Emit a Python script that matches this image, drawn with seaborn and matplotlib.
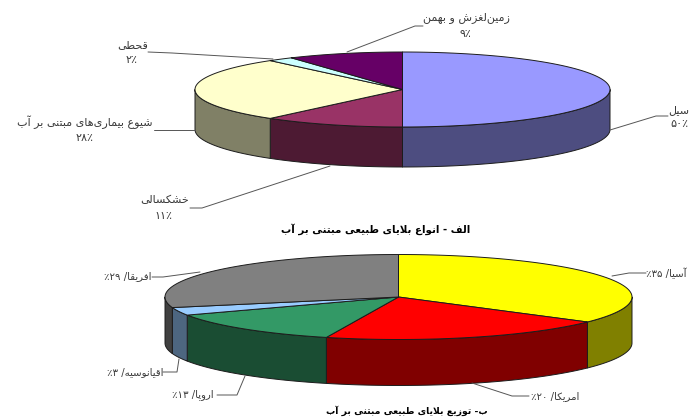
import numpy as np
import matplotlib
matplotlib.use("Agg")
import matplotlib.pyplot as plt
from matplotlib.patches import Polygon
import seaborn as sns

# Types of water-related natural disasters
hazard_names = ["سیل", "خشکسالی", "شیوع بیماری‌های مبتنی بر آب", "قحطی", "زمین‌لغزش و بهمن"]
hazard_values = [50, 11, 28, 2, 9]
hazard_top = ["#9999FF", "#993366", "#FFFFCC", "#CCFFFF", "#660066"]
hazard_side = ["#4D4D80", "#4D1A33", "#808066", "#668080", "#330033"]
hazard_caption = "الف - انواع بلایای طبیعی مبتنی بر آب"

# Distribution of those disasters by continent
region_names = ["آسیا", "امریکا", "اروپا", "اقیانوسیه", "افریقا"]
region_values = [35, 20, 13, 3, 29]
region_top = ["#FFFF00", "#FF0000", "#339966", "#99CCFF", "#808080"]
region_side = ["#808000", "#800000", "#1A4D33", "#4D6680", "#404040"]
region_caption = "ب- توزیع بلایای طبیعی مبتنی بر آب"

FORMS = {
    "ا": (0xFE8D, 0xFE8E), "آ": (0xFE81, 0xFE82), "ر": (0xFEAD, 0xFEAE),
    "ز": (0xFEAF, 0xFEB0), "و": (0xFEED, 0xFEEE),
    "ب": (0xFE8F, 0xFE90, 0xFE91, 0xFE92), "پ": (0xFB56, 0xFB57, 0xFB58, 0xFB59),
    "ت": (0xFE95, 0xFE96, 0xFE97, 0xFE98), "ح": (0xFEA1, 0xFEA2, 0xFEA3, 0xFEA4),
    "خ": (0xFEA5, 0xFEA6, 0xFEA7, 0xFEA8), "س": (0xFEB1, 0xFEB2, 0xFEB3, 0xFEB4),
    "ش": (0xFEB5, 0xFEB6, 0xFEB7, 0xFEB8), "ط": (0xFEC1, 0xFEC2, 0xFEC3, 0xFEC4),
    "ع": (0xFEC9, 0xFECA, 0xFECB, 0xFECC), "غ": (0xFECD, 0xFECE, 0xFECF, 0xFED0),
    "ف": (0xFED1, 0xFED2, 0xFED3, 0xFED4), "ق": (0xFED5, 0xFED6, 0xFED7, 0xFED8),
    "ک": (0xFB8E, 0xFB8F, 0xFB90, 0xFB91), "ل": (0xFEDD, 0xFEDE, 0xFEDF, 0xFEE0),
    "م": (0xFEE1, 0xFEE2, 0xFEE3, 0xFEE4), "ن": (0xFEE5, 0xFEE6, 0xFEE7, 0xFEE8),
    "ه": (0xFEE9, 0xFEEA, 0xFEEB, 0xFEEC), "ی": (0xFBFC, 0xFBFD, 0xFBFE, 0xFBFF),
}
DIGITS = "۰۱۲۳۴۵۶۷۸۹"


def persian(text):
    """Join Persian letters into contextual forms and lay them out right to left."""
    glyphs = []
    i = 0
    joined = False
    while i < len(text):
        ch = text[i]
        following = text[i + 1] if i + 1 < len(text) else ""
        if ch == "ل" and following in ("ا", "آ"):
            base = 0xFEFB if following == "ا" else 0xFEF5
            glyphs.append(chr(base + 1 if joined else base))
            joined = False
            i += 2
            continue
        forms = FORMS.get(ch)
        if forms is None:
            if ch != "\u200c":
                glyphs.append(ch)
            joined = False
            i += 1
            continue
        links_on = len(forms) == 4 and following in FORMS
        if joined and links_on:
            form = forms[3]
        elif joined:
            form = forms[1]
        elif links_on:
            form = forms[2]
        else:
            form = forms[0]
        glyphs.append(chr(form))
        joined = links_on
        i += 1
    # Reverse the run order, keeping digit groups reading left to right
    out = []
    run = ""
    for g in reversed(glyphs):
        if g in DIGITS:
            run = g + run
        else:
            out.append(run)
            run = ""
            out.append(g)
    out.append(run)
    return "".join(out)


def fa_digits(n):
    return "".join(DIGITS[int(d)] for d in str(n))


def draw_disc(ax, values, top, side, cx, cy, rx, ry, depth):
    """Draw a tilted pie: front wall pieces first, then the top wedges clockwise from north."""
    edges = np.cumsum([0] + list(values)) / sum(values) * 360.0
    ink = "#1c1c1c"

    def rim(a, b, drop=0.0):
        t = np.radians(np.linspace(a, b, 90))
        return np.column_stack([cx + rx * np.sin(t), cy - ry * np.cos(t) + drop])

    for start, end, colour in zip(edges[:-1], edges[1:], sns.color_palette(side)):
        lo, hi = max(start, 90.0), min(end, 270.0)
        if lo < hi:
            wall = np.vstack([rim(lo, hi), rim(lo, hi, depth)[::-1]])
            ax.add_patch(Polygon(wall, closed=True, fc=colour, ec=ink, lw=0.7, joinstyle="round"))
    for start, end, colour in zip(edges[:-1], edges[1:], sns.color_palette(top)):
        wedge = np.vstack([[cx, cy], rim(start, end)])
        ax.add_patch(Polygon(wedge, closed=True, fc=colour, ec=ink, lw=0.7, joinstyle="round"))


sns.set_theme(style="white", rc={"font.family": ["DejaVu Sans"]})
fig = plt.figure(figsize=(6.89, 4.18), dpi=100, facecolor="white")
ax = fig.add_axes([0, 0, 1, 1])
ax.set_xlim(0, 689)
ax.set_ylim(418, 0)
ax.axis("off")

draw_disc(ax, hazard_values, hazard_top, hazard_side, 402.5, 89.5, 207.5, 37.5, 40)
draw_disc(ax, region_values, region_top, region_side, 398.5, 297, 233.5, 42.5, 46)

leader_kw = dict(color="#555555", lw=0.7, solid_capstyle="round")
hazard_leaders = [
    [(610, 130), (656, 116), (668, 116)],
    [(190, 208), (202, 208), (330, 166)],
    [(154, 130), (195, 130)],
    [(148, 52), (172, 53), (273, 59)],
    [(347, 52), (415, 26), (423, 26)],
]
region_leaders = [
    [(646, 273), (629, 273), (612, 276)],
    [(472, 383), (512, 396), (529, 396)],
    [(217, 395), (237, 395), (245, 376)],
    [(163, 372), (177, 372), (179, 359)],
    [(152, 277), (163, 277), (200, 272)],
]
for path in hazard_leaders + region_leaders:
    xs, ys = zip(*path)
    ax.plot(xs, ys, **leader_kw)

upper_kw = dict(color="#3a3a3a", fontsize=8.0, va="center", ha="center")
lower_kw = dict(color="#3a3a3a", fontsize=7.3, va="center", ha="center")

# Upper pie: name on one line, share on the line beneath
hazard_name_xy = [(679, 110), (165, 200), (85, 122), (133, 45), (466, 18)]
hazard_pct_xy = [(679, 124), (163, 216), (85, 138), (132, 60), (465, 34)]
for name, value, n_xy, p_xy in zip(hazard_names, hazard_values, hazard_name_xy, hazard_pct_xy):
    ax.text(*n_xy, persian(name), **upper_kw)
    ax.text(*p_xy, persian("٪" + fa_digits(value)), **upper_kw)

# Lower pie: name and share share a single line
region_xy = [(666, 273), (555, 396), (193, 395), (135, 372), (128, 276)]
for name, value, xy in zip(region_names, region_values, region_xy):
    ax.text(*xy, persian(f"{name}/ {fa_digits(value)}٪"), **lower_kw)

caption_kw = dict(color="black", fontweight="bold", ha="center", va="center")
ax.text(376, 229, persian(hazard_caption), fontsize=7.4, **caption_kw)
ax.text(407, 411, persian(region_caption), fontsize=6.7, **caption_kw)

fig.savefig("out.png", dpi=100, facecolor="white")
